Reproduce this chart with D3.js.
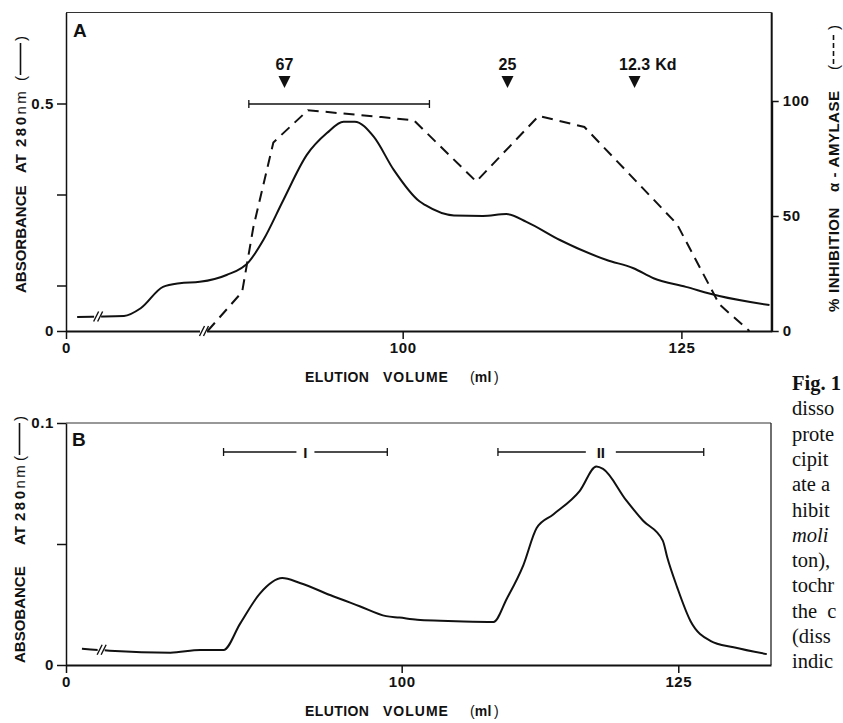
<!DOCTYPE html>
<html>
<head>
<meta charset="utf-8">
<script src="https://cdn.jsdelivr.net/npm/d3@7"></script>
<style>
  body { margin: 0; background: #fff; }
  svg { display: block; }
</style>
</head>
<body>
<main></main>
<script>
// ---- panel A : absorbance (solid) and inhibition (dashed) ----
const volumeA = [70.8, 75.0, 76.5, 78.5, 80.0, 81.8, 84.2, 86.2, 87.5, 89.3, 91.4, 93.2, 94.7, 95.7, 97.4, 99.2,
                 101.5, 102.0, 104.6, 107.2, 109.3, 111.1, 114.1, 118.3, 120.7, 122.5, 125.4, 128.4, 132.9];
const absorbanceA = [0.031, 0.033, 0.050, 0.097, 0.105, 0.108, 0.123, 0.152, 0.200, 0.288, 0.387, 0.435, 0.460, 0.460, 0.427, 0.354,
                     0.285, 0.277, 0.254, 0.253, 0.257, 0.240, 0.200, 0.156, 0.138, 0.116, 0.097, 0.077, 0.057];
const inhibitionVolumeA = [82.5, 85.6, 86.6, 88.4, 91.5, 98.1, 101.0, 106.6, 112.2, 116.3, 124.6, 128.4, 131.1];
const inhibitionA = [0, 17, 45, 82, 96, 93, 91.6, 65, 93.5, 88.7, 46.5, 11.6, 0];

const markerVolumes = [89.4, 109.4, 120.8];
const markerLabels = ["67", "25", "12.3"];
const markerUnit = "Kd";
const poolVolumesA = [86.2, 102.4];

// ---- panel B : absorbance ----
const volumeB = [71.1, 73.6, 79.1, 81.8, 83.9, 85.4, 87.2, 89.2, 90.8, 93.8, 96.2, 98.6, 99.8, 101.4, 103.5, 105.6, 108.3,
                 109.5, 111.0, 112.2, 113.7, 116.1, 117.6, 118.2, 120.3, 121.8, 123.6, 124.0, 124.9, 126.1, 127.9, 130.0, 133.0];
const absorbanceB = [0.0067, 0.0059, 0.0051, 0.0062, 0.0062, 0.0171, 0.0296, 0.0359, 0.0339, 0.0284, 0.0243, 0.0202, 0.0196, 0.0187, 0.0183, 0.0180, 0.0178,
                     0.0274, 0.0413, 0.0566, 0.0622, 0.0720, 0.0820, 0.0810, 0.0680, 0.0597, 0.0514, 0.0445, 0.0321, 0.0182, 0.0100, 0.0073, 0.0045];
const fractionLabels = ["I", "II"];
const fractionStart = [83.9, 108.7];
const fractionEnd = [98.7, 127.3];

// ---- ticks ----
const xTickValues = [0, 100, 125];
const yTickValuesA = [0, 0.1, 0.3, 0.5];
const yTickLabelsA = ["0", "", "", "0.5"];
const yTickValuesRight = [0, 50, 100];
const yTickValuesB = [0, 0.05, 0.1];
const yTickLabelsB = ["0", "", "0.1"];

// break marks, in data units
const breakA = { volume: 72.5, value: 0.032 };
const breakAxisA = 82.0;
const breakB = { volume: 72.7, value: 0.0063 };

// right-hand caption fragment (cut by the page edge in the original)
const captionLines = ["Fig. 1", "disso", "prote", "cipit", "ate a", "hibit", "moli", "ton),", "tochr", "the  c", "(diss", "indic"];

const svgSize = { width: 843, height: 723 };
const panelA = { left: 66, right: 771.7, top: 12.5, bottom: 331 };
const panelB = { left: 66, right: 771, top: 423, bottom: 665 };
const ink = "#111";
const sans = "'Liberation Sans', Arial, Helvetica, sans-serif";

const svg = d3.select("main")
    .append("svg")
    .attr("width", svgSize.width)
    .attr("height", svgSize.height);

// broken axis: everything below ~70 ml collapses onto the left edge next to the "0"
const xA = d3.scaleLinear().domain([0, 69.8, 133.1]).range([panelA.left, panelA.left, panelA.right]);
const yA = d3.scaleLinear().domain([0, 0.7]).range([panelA.bottom, panelA.top]);
const yInhib = d3.scaleLinear().domain([0, 100]).range([panelA.bottom, 101]);
const xB = d3.scaleLinear().domain([0, 69.66, 133.38]).range([panelB.left, panelB.left, panelB.right]);
const yB = d3.scaleLinear().domain([0, 0.1]).range([panelB.bottom, panelB.top]);

const styleAxis = (g, width) => {
    g.attr("font-family", null).attr("font-size", null);
    g.select(".domain").attr("stroke", ink).attr("stroke-width", width);
    g.selectAll(".tick line").attr("stroke", ink).attr("stroke-width", 1.5);
    g.selectAll(".tick text")
        .attr("fill", ink)
        .attr("font-family", sans)
        .attr("font-weight", "bold")
        .attr("font-size", 15)
        .attr("letter-spacing", 0.6);
};

const drawFrame = (panel, x, y, yTicks, yLabels) => {
    svg.append("line")
        .attr("x1", panel.left).attr("x2", panel.right)
        .attr("y1", panel.top).attr("y2", panel.top)
        .attr("stroke", "#333").attr("stroke-width", 1.2);

    svg.append("g")
        .attr("transform", `translate(0, ${panel.bottom})`)
        .call(d3.axisBottom(x).tickValues(xTickValues).tickFormat(d3.format("d"))
            .tickSize(8).tickSizeOuter(0).tickPadding(3))
        .call(g => styleAxis(g, 1.8));

    svg.append("g")
        .attr("transform", `translate(${panel.left}, 0)`)
        .call(d3.axisLeft(y).tickValues(yTicks).tickFormat((d, i) => yLabels[i])
            .tickSize(9).tickSizeOuter(0).tickPadding(3))
        .call(g => styleAxis(g, 1.5));
};

const drawBreak = (x, y) => {
    const g = svg.append("g").attr("transform", `translate(${x}, ${y})`);
    g.append("rect").attr("x", -2).attr("y", -3).attr("width", 7).attr("height", 6).attr("fill", "#fff");
    [0, 4].forEach(dx => {
        g.append("line")
            .attr("x1", dx - 2.5).attr("y1", 5)
            .attr("x2", dx + 2.5).attr("y2", -5)
            .attr("stroke", ink).attr("stroke-width", 1.4);
    });
};

const drawRotatedTitle = (x, y, pieces) => {
    const g = svg.append("g").attr("transform", `translate(${x}, ${y}) rotate(-90)`);
    pieces.forEach(p => {
        if (p.bracket) {
            g.append("text").attr("x", p.at).attr("font-family", sans).attr("font-size", 15).attr("fill", ink).text("(");
            g.append("text").attr("x", p.at + p.len - 4).attr("font-family", sans).attr("font-size", 15).attr("fill", ink).text(")");
            g.append("line")
                .attr("x1", p.at + 6).attr("x2", p.at + p.len - 6)
                .attr("y1", -5.5).attr("y2", -5.5)
                .attr("stroke", ink).attr("stroke-width", 1.6)
                .attr("stroke-dasharray", p.dash || null);
        } else {
            const t = g.append("text")
                .attr("x", p.at)
                .attr("font-family", sans).attr("font-weight", "bold")
                .attr("font-size", 15).attr("letter-spacing", p.spacing || 0)
                .attr("fill", ink)
                .text(p.text);
            if (p.light) {
                t.append("tspan").attr("font-weight", "normal").attr("letter-spacing", 2.5).text(p.light);
            }
        }
    });
};

const drawXTitle = (y) => {
    const t = svg.append("text")
        .attr("y", y)
        .attr("font-family", sans).attr("font-weight", "bold")
        .attr("font-size", 14)
        .attr("fill", ink);
    t.append("tspan").attr("x", 305).attr("letter-spacing", 0.4).text("ELUTION");
    t.append("tspan").attr("x", 383).attr("letter-spacing", 1).text("VOLUME");
    t.append("tspan").attr("x", 470).attr("font-weight", "normal").text("(");
    t.append("tspan").attr("letter-spacing", 0.5).text("ml");
    t.append("tspan").attr("dx", 2).attr("font-weight", "normal").text(")");
};

// ================= panel A =================
drawFrame(panelA, xA, yA, yTickValuesA, yTickLabelsA);

svg.append("g")
    .attr("transform", `translate(${panelA.right}, 0)`)
    .call(d3.axisRight(yInhib).tickValues(yTickValuesRight).tickSize(7).tickSizeOuter(0).tickPadding(4))
    .call(g => styleAxis(g, 2));
// right axis continues up to the top of the frame
svg.append("line")
    .attr("x1", panelA.right).attr("x2", panelA.right)
    .attr("y1", panelA.top).attr("y2", panelA.bottom)
    .attr("stroke", ink).attr("stroke-width", 2);

svg.append("text")
    .attr("x", 73).attr("y", 37)
    .attr("font-family", sans).attr("font-weight", "bold").attr("font-size", 19)
    .attr("fill", ink).text("A");

svg.append("path")
    .datum(volumeA.map((v, i) => [v, absorbanceA[i]]))
    .attr("fill", "none").attr("stroke", ink).attr("stroke-width", 2)
    .attr("stroke-linejoin", "round")
    .attr("d", d3.line().x(d => xA(d[0])).y(d => yA(d[1])).curve(d3.curveMonotoneX));

svg.append("path")
    .datum(inhibitionVolumeA.map((v, i) => [v, inhibitionA[i]]))
    .attr("fill", "none").attr("stroke", ink).attr("stroke-width", 2)
    .attr("stroke-dasharray", "11,7")
    .attr("d", d3.line().x(d => xA(d[0])).y(d => yInhib(d[1])));

drawBreak(xA(breakA.volume), yA(breakA.value));
drawBreak(xA(breakAxisA), panelA.bottom);

// molecular weight markers
markerVolumes.forEach((v, i) => {
    const mx = xA(v);
    svg.append("path")
        .attr("d", `M${mx - 6},76 L${mx + 6},76 L${mx},88 Z`)
        .attr("fill", ink);
    const t = svg.append("text")
        .attr("x", mx).attr("y", 70)
        .attr("text-anchor", "middle")
        .attr("font-family", sans).attr("font-weight", "bold").attr("font-size", 16)
        .attr("fill", ink)
        .text(markerLabels[i]);
    if (i === markerVolumes.length - 1) {
        const w = t.node().getComputedTextLength();
        svg.append("text")
            .attr("x", mx + w / 2 + 5).attr("y", 70)
            .attr("font-family", sans).attr("font-weight", "bold").attr("font-size", 16)
            .attr("fill", ink)
            .text(markerUnit);
    }
});

// pooled fraction bar
const poolY = 104;
svg.append("line")
    .attr("x1", xA(poolVolumesA[0])).attr("x2", xA(poolVolumesA[1]))
    .attr("y1", poolY).attr("y2", poolY)
    .attr("stroke", ink).attr("stroke-width", 1.3);
poolVolumesA.forEach(v => {
    svg.append("line")
        .attr("x1", xA(v)).attr("x2", xA(v))
        .attr("y1", poolY - 4).attr("y2", poolY + 4)
        .attr("stroke", ink).attr("stroke-width", 1.3);
});

drawRotatedTitle(26, 293, [
    { text: "ABSORBANCE", at: 0 },
    { text: "AT", at: 120 },
    { text: "280", light: "nm", at: 146, spacing: 2.5 },
    { bracket: true, at: 212, len: 44 }
]);
drawRotatedTitle(839, 312, [
    { text: "%", at: 0 },
    { text: "INHIBITION", at: 19, spacing: 0.5 },
    { text: "\u03b1 - AMYLASE", at: 120, spacing: 0.5 },
    { bracket: true, at: 242, len: 44, dash: "5,3" }
]);
drawXTitle(382);

// ================= panel B =================
drawFrame(panelB, xB, yB, yTickValuesB, yTickLabelsB);
svg.append("line")
    .attr("x1", panelB.right).attr("x2", panelB.right)
    .attr("y1", panelB.top).attr("y2", panelB.bottom)
    .attr("stroke", "#222").attr("stroke-width", 1.3);

svg.append("text")
    .attr("x", 72).attr("y", 446)
    .attr("font-family", sans).attr("font-weight", "bold").attr("font-size", 19)
    .attr("fill", ink).text("B");

svg.append("path")
    .datum(volumeB.map((v, i) => [v, absorbanceB[i]]))
    .attr("fill", "none").attr("stroke", ink).attr("stroke-width", 2)
    .attr("stroke-linejoin", "round")
    .attr("d", d3.line().x(d => xB(d[0])).y(d => yB(d[1])).curve(d3.curveMonotoneX));

drawBreak(xB(breakB.volume), yB(breakB.value));

const fractionY = 452;
fractionLabels.forEach((lab, i) => {
    const x0 = xB(fractionStart[i]);
    const x1 = xB(fractionEnd[i]);
    const mid = (x0 + x1) / 2;
    const gap = lab.length * 6 + 3;
    [[x0, mid - gap], [mid + gap, x1]].forEach(seg => {
        svg.append("line")
            .attr("x1", seg[0]).attr("x2", seg[1])
            .attr("y1", fractionY).attr("y2", fractionY)
            .attr("stroke", ink).attr("stroke-width", 1.3);
    });
    [x0, x1].forEach(xx => {
        svg.append("line")
            .attr("x1", xx).attr("x2", xx)
            .attr("y1", fractionY - 4).attr("y2", fractionY + 4)
            .attr("stroke", ink).attr("stroke-width", 1.3);
    });
    svg.append("text")
        .attr("x", mid).attr("y", fractionY + 6)
        .attr("text-anchor", "middle")
        .attr("font-family", sans).attr("font-weight", "bold").attr("font-size", 15)
        .attr("fill", ink)
        .text(lab);
});

drawRotatedTitle(25, 663, [
    { text: "ABSOBANCE", at: 0 },
    { text: "AT", at: 118 },
    { text: "280", light: "nm", at: 142, spacing: 2.5 },
    { bracket: true, at: 202, len: 44 }
]);
drawXTitle(716);

// ================= caption fragment =================
captionLines.forEach((line, i) => {
    svg.append("text")
        .attr("x", 792)
        .attr("y", 390 + i * 25.3)
        .attr("font-family", "'Liberation Serif', 'Times New Roman', serif")
        .attr("font-size", 20.5)
        .attr("font-weight", i === 0 ? "bold" : "normal")
        .attr("font-style", line === "moli" ? "italic" : "normal")
        .attr("fill", ink)
        .attr("xml:space", "preserve")
        .style("white-space", "pre")
        .text(line);
});
</script>
</body>
</html>
